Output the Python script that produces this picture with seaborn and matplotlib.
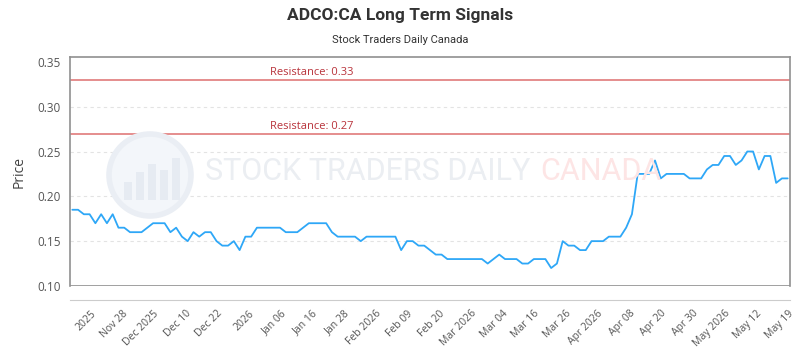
import matplotlib
matplotlib.use('Agg')
import matplotlib.pyplot as plt
from matplotlib.patches import Circle, Rectangle
import numpy as np
import pandas as pd
import seaborn as sns

# daily closes
price = [0.185, 0.185, 0.18, 0.18, 0.17, 0.18, 0.17, 0.18, 0.165, 0.165,
         0.16, 0.16, 0.16, 0.165, 0.17, 0.17, 0.17, 0.16, 0.165, 0.155,
         0.15, 0.16, 0.155, 0.16, 0.16, 0.15, 0.145, 0.145, 0.15, 0.14,
         0.155, 0.155, 0.165, 0.165, 0.165, 0.165, 0.165, 0.16, 0.16, 0.16,
         0.165, 0.17, 0.17, 0.17, 0.17, 0.16, 0.155, 0.155, 0.155, 0.155,
         0.15, 0.155, 0.155, 0.155, 0.155, 0.155, 0.155, 0.14, 0.15, 0.15,
         0.145, 0.145, 0.14, 0.135, 0.135, 0.13, 0.13, 0.13, 0.13, 0.13,
         0.13, 0.13, 0.125, 0.13, 0.135, 0.13, 0.13, 0.13, 0.125, 0.125,
         0.13, 0.13, 0.13, 0.12, 0.125, 0.15, 0.145, 0.145, 0.14, 0.14,
         0.15, 0.15, 0.15, 0.155, 0.155, 0.155, 0.165, 0.18, 0.225, 0.225,
         0.225, 0.24, 0.22, 0.225, 0.225, 0.225, 0.225, 0.22, 0.22, 0.22,
         0.23, 0.235, 0.235, 0.245, 0.245, 0.235, 0.24, 0.25, 0.25, 0.23,
         0.245, 0.245, 0.215, 0.22, 0.22]

tick_labels = ['2025', 'Nov 28', 'Dec 2025', 'Dec 10', 'Dec 22', '2026', 'Jan 06',
               'Jan 16', 'Jan 28', 'Feb 2026', 'Feb 09', 'Feb 20', 'Mar 2026',
               'Mar 04', 'Mar 16', 'Mar 26', 'Apr 2026', 'Apr 08', 'Apr 20',
               'Apr 30', 'May 2026', 'May 12', 'May 19']

resistance = [0.33, 0.27]

df = pd.DataFrame({'day': np.arange(len(price)), 'price': price})

sns.set_style('white')
plt.rcParams['font.family'] = ['Open Sans', 'DejaVu Sans']

fig = plt.figure(figsize=(8, 3.5), dpi=100)
ax = fig.add_axes([0.0875, 0.183, 0.9, 0.653])
# offset x axis line first: moving a spine resets the ticks
ax.spines['bottom'].set_position(('outward', 10))

# watermark (logo circle with little bars + text)
fig.patches.append(Circle((150, 175), 41, transform=None, facecolor='#f3f6fa',
                          edgecolor='#eaeef4', linewidth=4, zorder=0))
for bx, bh in [(124, 18), (136, 28), (148, 36), (160, 30), (172, 42)]:
    fig.patches.append(Rectangle((bx, 150), 8, bh, transform=None,
                                 facecolor='#e6ebf2', edgecolor='none', zorder=0))
fig.text(0.256, 0.51, 'STOCK TRADERS DAILY', fontsize=22, color='#ebeef2',
         family='Roboto', va='center', ha='left', zorder=0)
fig.text(0.675, 0.51, 'CANADA', fontsize=22, color='#fde5e5',
         family='Roboto', va='center', ha='left', zorder=0)
ax.patch.set_alpha(0)

sns.lineplot(data=df, x='day', y='price', ax=ax, color='#2ea7f7', linewidth=1.3)

for r in resistance:
    ax.axhline(r, color='#e07a7a', linewidth=1.2)
    ax.text(41.5, r + 0.002, f'Resistance: {r:.2f}', color='#b8323a',
            fontsize=8, ha='center', va='bottom')

for g in [0.15, 0.20, 0.25, 0.30]:
    ax.axhline(g, color='#e3e3e3', linewidth=0.8, linestyle=(0, (3, 3)), zorder=0)

ax.axhline(0.10, color='#909090', linewidth=1.2)
ax.set_xlim(-0.4, 124.4)
ax.set_ylim(0.10, 0.355)
ax.set_yticks([0.10, 0.15, 0.20, 0.25, 0.30, 0.35])
ax.set_yticklabels(['0.10', '0.15', '0.20', '0.25', '0.30', '0.35'])
ax.set_xticks(np.linspace(3.1, 124, len(tick_labels)))
ax.set_xticklabels(tick_labels, rotation=45, ha='right', rotation_mode='anchor')
ax.tick_params(axis='y', labelsize=8.5, colors='#555555', length=3, width=0.8)
ax.tick_params(axis='x', labelsize=7.5, colors='#555555', length=3, width=0.8, pad=3)
ax.set_xlabel('')
ax.set_ylabel('Price', fontsize=10, color='#444444', labelpad=8)

for s in ['left', 'right', 'top']:
    ax.spines[s].set_color('#909090')
    ax.spines[s].set_linewidth(1.2)
ax.spines['bottom'].set_color('#cccccc')

fig.text(0.5, 0.955, 'ADCO:CA Long Term Signals', ha='center', va='center',
         fontsize=12.5, fontweight='bold', color='#333333', family='Roboto')
fig.text(0.5, 0.886, 'Stock Traders Daily Canada', ha='center', va='center',
         fontsize=8, color='#333333', family='Roboto')

fig.savefig('out.png', dpi=100)
